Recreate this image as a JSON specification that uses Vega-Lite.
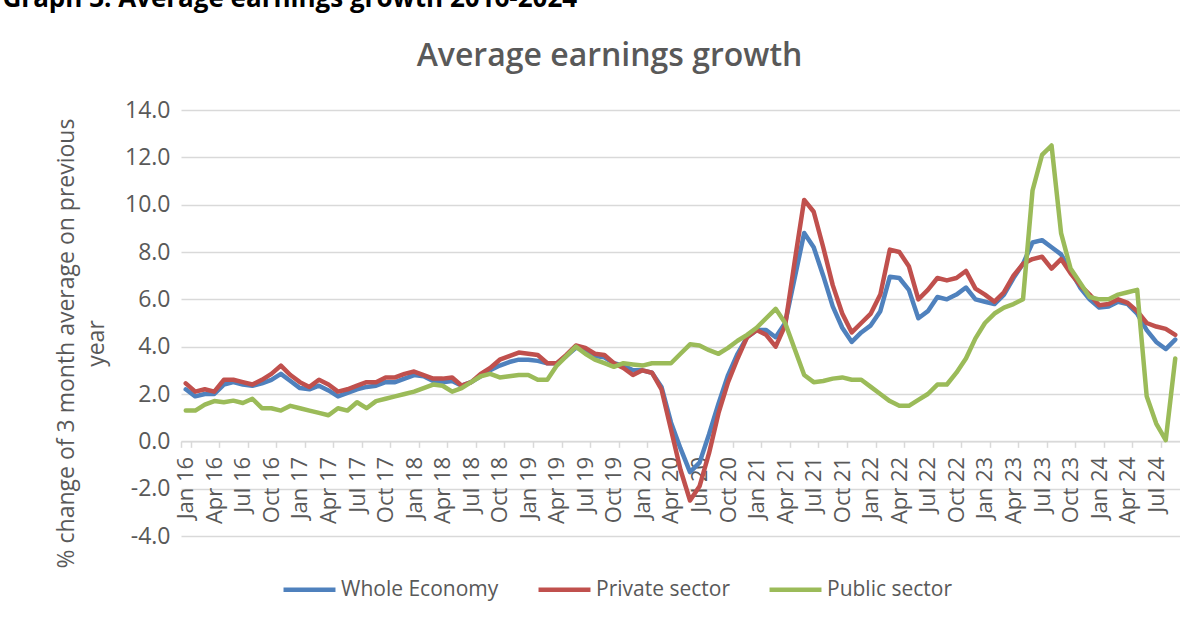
{
  "$schema": "https://vega.github.io/schema/vega-lite/v6.json",
  "padding": {"left": 2, "top": -14, "right": 0, "bottom": 6},
  "background": "white",
  "title": {"text": "Graph 3: Average earnings growth 2016-2024", "anchor": "start", "font": "Open Sans", "fontSize": 26, "fontWeight": "bold", "color": "#000000", "offset": 28, "dx": -53},
  "config": {"view": {"stroke": null}, "font": "Open Sans"},
  "vconcat": [{
    "width": 999,
    "height": 426,
    "title": {"text": "Average earnings growth", "anchor": "middle", "frame": "group", "dx": -71, "offset": 26, "fontSize": 32, "fontWeight": 600, "color": "#595959", "font": "Open Sans"},
    "data": {"values": [
      {"m":"Jan 16","Whole Economy":2.2,"Private sector":2.45,"Public sector":1.3},
      {"m":"Feb 16","Whole Economy":1.9,"Private sector":2.1,"Public sector":1.3},
      {"m":"Mar 16","Whole Economy":2.0,"Private sector":2.2,"Public sector":1.55},
      {"m":"Apr 16","Whole Economy":2.0,"Private sector":2.1,"Public sector":1.7},
      {"m":"May 16","Whole Economy":2.4,"Private sector":2.6,"Public sector":1.65},
      {"m":"Jun 16","Whole Economy":2.5,"Private sector":2.6,"Public sector":1.72},
      {"m":"Jul 16","Whole Economy":2.4,"Private sector":2.5,"Public sector":1.62},
      {"m":"Aug 16","Whole Economy":2.35,"Private sector":2.4,"Public sector":1.8},
      {"m":"Sep 16","Whole Economy":2.45,"Private sector":2.6,"Public sector":1.4},
      {"m":"Oct 16","Whole Economy":2.6,"Private sector":2.85,"Public sector":1.4},
      {"m":"Nov 16","Whole Economy":2.85,"Private sector":3.2,"Public sector":1.3},
      {"m":"Dec 16","Whole Economy":2.55,"Private sector":2.8,"Public sector":1.5},
      {"m":"Jan 17","Whole Economy":2.25,"Private sector":2.5,"Public sector":1.4},
      {"m":"Feb 17","Whole Economy":2.2,"Private sector":2.3,"Public sector":1.3},
      {"m":"Mar 17","Whole Economy":2.35,"Private sector":2.6,"Public sector":1.2},
      {"m":"Apr 17","Whole Economy":2.15,"Private sector":2.4,"Public sector":1.1},
      {"m":"May 17","Whole Economy":1.9,"Private sector":2.1,"Public sector":1.4},
      {"m":"Jun 17","Whole Economy":2.05,"Private sector":2.2,"Public sector":1.3},
      {"m":"Jul 17","Whole Economy":2.2,"Private sector":2.35,"Public sector":1.65},
      {"m":"Aug 17","Whole Economy":2.3,"Private sector":2.5,"Public sector":1.4},
      {"m":"Sep 17","Whole Economy":2.35,"Private sector":2.5,"Public sector":1.7},
      {"m":"Oct 17","Whole Economy":2.5,"Private sector":2.7,"Public sector":1.8},
      {"m":"Nov 17","Whole Economy":2.5,"Private sector":2.7,"Public sector":1.9},
      {"m":"Dec 17","Whole Economy":2.65,"Private sector":2.85,"Public sector":2.0},
      {"m":"Jan 18","Whole Economy":2.8,"Private sector":2.95,"Public sector":2.1},
      {"m":"Feb 18","Whole Economy":2.75,"Private sector":2.8,"Public sector":2.25},
      {"m":"Mar 18","Whole Economy":2.55,"Private sector":2.65,"Public sector":2.4},
      {"m":"Apr 18","Whole Economy":2.5,"Private sector":2.65,"Public sector":2.35},
      {"m":"May 18","Whole Economy":2.55,"Private sector":2.7,"Public sector":2.1},
      {"m":"Jun 18","Whole Economy":2.35,"Private sector":2.35,"Public sector":2.25},
      {"m":"Jul 18","Whole Economy":2.5,"Private sector":2.5,"Public sector":2.5},
      {"m":"Aug 18","Whole Economy":2.75,"Private sector":2.85,"Public sector":2.75},
      {"m":"Sep 18","Whole Economy":3.0,"Private sector":3.1,"Public sector":2.85},
      {"m":"Oct 18","Whole Economy":3.2,"Private sector":3.45,"Public sector":2.7},
      {"m":"Nov 18","Whole Economy":3.35,"Private sector":3.6,"Public sector":2.75},
      {"m":"Dec 18","Whole Economy":3.45,"Private sector":3.75,"Public sector":2.8},
      {"m":"Jan 19","Whole Economy":3.45,"Private sector":3.7,"Public sector":2.8},
      {"m":"Feb 19","Whole Economy":3.4,"Private sector":3.65,"Public sector":2.6},
      {"m":"Mar 19","Whole Economy":3.3,"Private sector":3.3,"Public sector":2.6},
      {"m":"Apr 19","Whole Economy":3.3,"Private sector":3.3,"Public sector":3.2},
      {"m":"May 19","Whole Economy":3.6,"Private sector":3.65,"Public sector":3.6},
      {"m":"Jun 19","Whole Economy":3.95,"Private sector":4.05,"Public sector":4.0},
      {"m":"Jul 19","Whole Economy":3.9,"Private sector":3.95,"Public sector":3.7},
      {"m":"Aug 19","Whole Economy":3.6,"Private sector":3.7,"Public sector":3.45},
      {"m":"Sep 19","Whole Economy":3.55,"Private sector":3.65,"Public sector":3.3},
      {"m":"Oct 19","Whole Economy":3.3,"Private sector":3.3,"Public sector":3.15},
      {"m":"Nov 19","Whole Economy":3.2,"Private sector":3.1,"Public sector":3.3},
      {"m":"Dec 19","Whole Economy":3.0,"Private sector":2.8,"Public sector":3.25},
      {"m":"Jan 20","Whole Economy":3.0,"Private sector":3.0,"Public sector":3.2},
      {"m":"Feb 20","Whole Economy":2.9,"Private sector":2.9,"Public sector":3.3},
      {"m":"Mar 20","Whole Economy":2.3,"Private sector":2.2,"Public sector":3.3},
      {"m":"Apr 20","Whole Economy":0.8,"Private sector":0.5,"Public sector":3.3},
      {"m":"May 20","Whole Economy":-0.3,"Private sector":-1.2,"Public sector":3.7},
      {"m":"Jun 20","Whole Economy":-1.3,"Private sector":-2.5,"Public sector":4.1},
      {"m":"Jul 20","Whole Economy":-0.9,"Private sector":-1.9,"Public sector":4.05},
      {"m":"Aug 20","Whole Economy":0.3,"Private sector":-0.5,"Public sector":3.85},
      {"m":"Sep 20","Whole Economy":1.6,"Private sector":1.2,"Public sector":3.7},
      {"m":"Oct 20","Whole Economy":2.8,"Private sector":2.5,"Public sector":3.95},
      {"m":"Nov 20","Whole Economy":3.7,"Private sector":3.5,"Public sector":4.25},
      {"m":"Dec 20","Whole Economy":4.4,"Private sector":4.4,"Public sector":4.5},
      {"m":"Jan 21","Whole Economy":4.7,"Private sector":4.7,"Public sector":4.8},
      {"m":"Feb 21","Whole Economy":4.7,"Private sector":4.5,"Public sector":5.2},
      {"m":"Mar 21","Whole Economy":4.4,"Private sector":4.0,"Public sector":5.6},
      {"m":"Apr 21","Whole Economy":5.0,"Private sector":4.9,"Public sector":5.0},
      {"m":"May 21","Whole Economy":6.9,"Private sector":7.6,"Public sector":3.9},
      {"m":"Jun 21","Whole Economy":8.8,"Private sector":10.2,"Public sector":2.8},
      {"m":"Jul 21","Whole Economy":8.2,"Private sector":9.7,"Public sector":2.5},
      {"m":"Aug 21","Whole Economy":7.0,"Private sector":8.2,"Public sector":2.55},
      {"m":"Sep 21","Whole Economy":5.7,"Private sector":6.6,"Public sector":2.65},
      {"m":"Oct 21","Whole Economy":4.8,"Private sector":5.4,"Public sector":2.7},
      {"m":"Nov 21","Whole Economy":4.2,"Private sector":4.6,"Public sector":2.6},
      {"m":"Dec 21","Whole Economy":4.6,"Private sector":5.0,"Public sector":2.6},
      {"m":"Jan 22","Whole Economy":4.9,"Private sector":5.4,"Public sector":2.3},
      {"m":"Feb 22","Whole Economy":5.5,"Private sector":6.2,"Public sector":2.0},
      {"m":"Mar 22","Whole Economy":6.95,"Private sector":8.1,"Public sector":1.7},
      {"m":"Apr 22","Whole Economy":6.9,"Private sector":8.0,"Public sector":1.5},
      {"m":"May 22","Whole Economy":6.4,"Private sector":7.4,"Public sector":1.5},
      {"m":"Jun 22","Whole Economy":5.2,"Private sector":6.0,"Public sector":1.75},
      {"m":"Jul 22","Whole Economy":5.5,"Private sector":6.4,"Public sector":2.0},
      {"m":"Aug 22","Whole Economy":6.1,"Private sector":6.9,"Public sector":2.4},
      {"m":"Sep 22","Whole Economy":6.0,"Private sector":6.8,"Public sector":2.4},
      {"m":"Oct 22","Whole Economy":6.2,"Private sector":6.9,"Public sector":2.9},
      {"m":"Nov 22","Whole Economy":6.5,"Private sector":7.2,"Public sector":3.5},
      {"m":"Dec 22","Whole Economy":6.0,"Private sector":6.45,"Public sector":4.35},
      {"m":"Jan 23","Whole Economy":5.9,"Private sector":6.2,"Public sector":5.0},
      {"m":"Feb 23","Whole Economy":5.8,"Private sector":5.9,"Public sector":5.4},
      {"m":"Mar 23","Whole Economy":6.2,"Private sector":6.3,"Public sector":5.65},
      {"m":"Apr 23","Whole Economy":6.9,"Private sector":7.0,"Public sector":5.8},
      {"m":"May 23","Whole Economy":7.5,"Private sector":7.5,"Public sector":6.0},
      {"m":"Jun 23","Whole Economy":8.4,"Private sector":7.7,"Public sector":10.6},
      {"m":"Jul 23","Whole Economy":8.5,"Private sector":7.8,"Public sector":12.1},
      {"m":"Aug 23","Whole Economy":8.2,"Private sector":7.3,"Public sector":12.5},
      {"m":"Sep 23","Whole Economy":7.9,"Private sector":7.7,"Public sector":8.8},
      {"m":"Oct 23","Whole Economy":7.2,"Private sector":7.1,"Public sector":7.3},
      {"m":"Nov 23","Whole Economy":6.5,"Private sector":6.6,"Public sector":6.7},
      {"m":"Dec 23","Whole Economy":6.0,"Private sector":6.2,"Public sector":6.1},
      {"m":"Jan 24","Whole Economy":5.65,"Private sector":5.75,"Public sector":6.0},
      {"m":"Feb 24","Whole Economy":5.7,"Private sector":5.8,"Public sector":6.0},
      {"m":"Mar 24","Whole Economy":5.9,"Private sector":6.0,"Public sector":6.2},
      {"m":"Apr 24","Whole Economy":5.8,"Private sector":5.85,"Public sector":6.3},
      {"m":"May 24","Whole Economy":5.4,"Private sector":5.5,"Public sector":6.4},
      {"m":"Jun 24","Whole Economy":4.7,"Private sector":5.0,"Public sector":1.9},
      {"m":"Jul 24","Whole Economy":4.2,"Private sector":4.85,"Public sector":0.75},
      {"m":"Aug 24","Whole Economy":3.9,"Private sector":4.75,"Public sector":0.05},
      {"m":"Sep 24","Whole Economy":4.3,"Private sector":4.5,"Public sector":3.5}
    ]},
    "transform": [{"fold": ["Whole Economy", "Private sector", "Public sector"], "as": ["series", "value"]}],
    "mark": {"type": "line", "strokeWidth": 4.5, "strokeJoin": "round", "strokeCap": "round"},
    "encoding": {
      "x": {
        "field": "m", "type": "ordinal", "sort": null,
        "scale": {"type": "band", "paddingInner": 0, "paddingOuter": 0},
        "bandPosition": 0.5,
        "axis": {
          "values": ["Jan 16","Apr 16","Jul 16","Oct 16","Jan 17","Apr 17","Jul 17","Oct 17","Jan 18","Apr 18","Jul 18","Oct 18","Jan 19","Apr 19","Jul 19","Oct 19","Jan 20","Apr 20","Jul 20","Oct 20","Jan 21","Apr 21","Jul 21","Oct 21","Jan 22","Apr 22","Jul 22","Oct 22","Jan 23","Apr 23","Jul 23","Oct 23","Jan 24","Apr 24","Jul 24"],
          "title": null, "labelAngle": 270, "offset": -94.67,
          "domainColor": "#d9d9d9", "domainWidth": 1.5,
          "tickColor": "#d9d9d9", "tickWidth": 1.5, "tickSize": 6, "tickBand": "extent",
          "labelFontSize": 22, "labelColor": "#595959", "labelFont": "Open Sans", "labelPadding": 9,
          "grid": false
        }
      },
      "y": {
        "field": "value", "type": "quantitative",
        "scale": {"domain": [-4, 14], "nice": false, "zero": false},
        "axis": {
          "values": [-4, -2, 0, 2, 4, 6, 8, 10, 12, 14],
          "labelExpr": "(datum.value < 0 ? '-' : '') + format(abs(datum.value), '.1f')",
          "domain": false, "ticks": false, "grid": true, "gridColor": "#d9d9d9", "gridWidth": 1.5,
          "labelFontSize": 23, "labelColor": "#595959", "labelFont": "Open Sans", "labelPadding": 11,
          "title": ["% change of 3 month average on previous", "year"],
          "titleFontSize": 23, "titleFontWeight": "normal", "titleColor": "#595959", "titleFont": "Open Sans",
          "titleLineHeight": 30, "titlePadding": 16, "titleY": 233
        }
      },
      "color": {
        "field": "series", "type": "nominal",
        "scale": {"domain": ["Whole Economy", "Private sector", "Public sector"], "range": ["#4F81BD", "#C0504D", "#9BBB59"]},
        "legend": {
          "orient": "none", "legendX": 100, "legendY": 451, "direction": "horizontal", "title": null,
          "symbolType": "stroke", "symbolSize": 2700, "symbolStrokeWidth": 4.5,
          "labelFontSize": 21, "labelColor": "#595959", "labelFont": "Open Sans", "labelOffset": 3,
          "columnPadding": 30
        }
      }
    }
  }]
}
